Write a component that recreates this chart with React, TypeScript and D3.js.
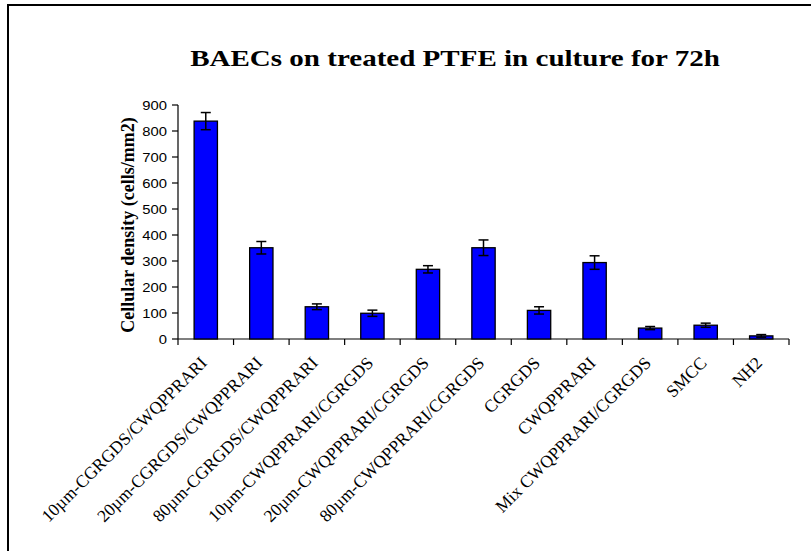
import React from "react";
import * as d3 from "d3";

const categories = [
  "10µm-CGRGDS/CWQPPRARI",
  "20µm-CGRGDS/CWQPPRARI",
  "80µm-CGRGDS/CWQPPRARI",
  "10µm-CWQPPRARI/CGRGDS",
  "20µm-CWQPPRARI/CGRGDS",
  "80µm-CWQPPRARI/CGRGDS",
  "CGRGDS",
  "CWQPPRARI",
  "Mix CWQPPRARI/CGRGDS",
  "SMCC",
  "NH2",
];
const values = [838, 351, 124, 99, 268, 351, 110, 294, 42, 53, 12];
const errors = [33, 24, 11, 12, 14, 30, 14, 26, 6, 8, 5];
const yTicks = [0, 100, 200, 300, 400, 500, 600, 700, 800, 900];

const W = 811;
const H = 551;
const left = 178;
const right = 789;
const top = 105;
const bottom = 339;

export default function App() {
  const x = d3.scaleBand<string>().domain(categories).range([left, right]).paddingInner(0.58).paddingOuter(0.29);
  const step = (right - left) / categories.length;
  const y = d3.scaleLinear().domain([0, 900]).range([bottom, top]);
  const serif = "'Liberation Serif', 'Times New Roman', serif";
  const sans = "'Liberation Sans', Arial, sans-serif";
  return (
    <svg width={W} height={H} style={{ position: "absolute", left: 0, top: 0, background: "#fff" }}>
      <rect x={0} y={0} width={W} height={H} fill="#fff" />
      <path d={`M8,${H + 5} V5 H${W + 5}`} fill="none" stroke="#000" strokeWidth={2} />
      <text
        transform={`translate(455,66) scale(1.21,1)`}
        textAnchor="middle"
        fontFamily={serif}
        fontWeight="bold"
        fontSize={24}
      >
        BAECs on treated PTFE in culture for 72h
      </text>
      <text
        transform={`translate(134,${(top + bottom) / 2 + 3}) rotate(-90)`}
        textAnchor="middle"
        fontFamily={serif}
        fontWeight="bold"
        fontSize={18}
      >
        Cellular density (cells/mm2)
      </text>
      {/* y axis */}
      <line x1={left} x2={left} y1={top} y2={bottom} stroke="#000" strokeWidth={1.2} />
      {yTicks.map((t) => (
        <g key={t}>
          <line x1={left - 6} x2={left} y1={y(t)} y2={y(t)} stroke="#000" strokeWidth={1.2} />
          <text
            transform={`translate(${left - 11},${y(t)}) scale(1.14,1)`}
            dy="0.36em"
            textAnchor="end"
            fontFamily={sans}
            fontSize={13}
          >
            {t}
          </text>
        </g>
      ))}
      {/* x axis */}
      <line x1={left} x2={right} y1={bottom} y2={bottom} stroke="#000" strokeWidth={1.2} />
      {d3.range(categories.length + 1).map((i) => (
        <line key={i} x1={left + i * step} x2={left + i * step} y1={bottom} y2={bottom + 6} stroke="#000" strokeWidth={1.2} />
      ))}
      {/* bars */}
      {categories.map((c, i) => {
        const bx = x(c)!;
        const bw = x.bandwidth();
        const cx = bx + bw / 2;
        return (
          <g key={c}>
            <rect x={bx} y={y(values[i])} width={bw} height={bottom - y(values[i])} fill="#0000ff" stroke="#000" strokeWidth={1.3} />
            <line x1={cx} x2={cx} y1={y(values[i] + errors[i])} y2={y(values[i] - errors[i])} stroke="#000" strokeWidth={1.5} />
            <line x1={cx - 5} x2={cx + 5} y1={y(values[i] + errors[i])} y2={y(values[i] + errors[i])} stroke="#000" strokeWidth={1.5} />
            <line x1={cx - 5} x2={cx + 5} y1={y(values[i] - errors[i])} y2={y(values[i] - errors[i])} stroke="#000" strokeWidth={1.5} />
          </g>
        );
      })}
      {/* x labels */}
      {categories.map((c, i) => {
        const cx = left + (i + 0.5) * step;
        return (
          <text
            key={c}
            transform={`translate(${cx + 2},${bottom + 25}) rotate(-45)`}
            textAnchor="end"
            fontFamily={serif}
            fontSize={17.5}
          >
            {c}
          </text>
        );
      })}
    </svg>
  );
}
